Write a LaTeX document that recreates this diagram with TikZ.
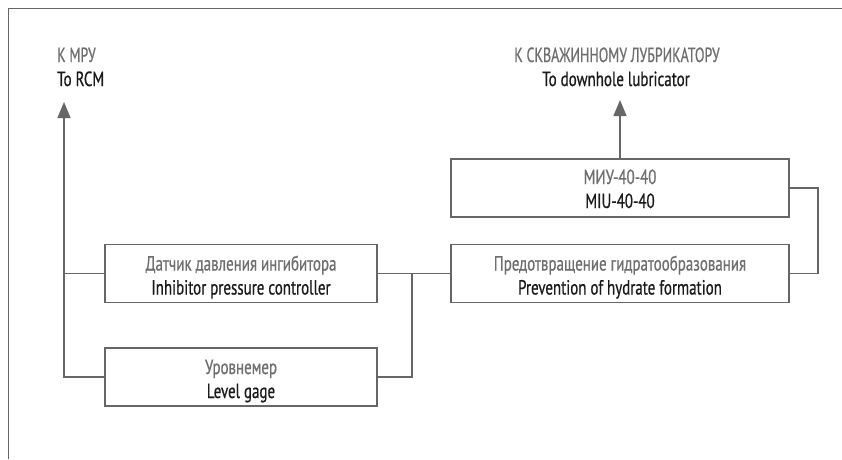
\documentclass[tikz,border=0pt]{standalone}
\usepackage{fontspec}
\setmainfont{PT Sans}[FakeStretch=0.73, FakeBold=0.6]
\newfontfamily\capsfont{PT Sans}[FakeStretch=0.68, FakeBold=0.6]
\usetikzlibrary{arrows.meta}
\definecolor{linegray}{HTML}{666666}
\definecolor{rugray}{HTML}{6E6E6E}
\definecolor{entext}{HTML}{1A1A1A}

\begin{document}
\begin{tikzpicture}[x=1pt,y=-1pt,
  frame/.style={draw=linegray, line width=1.4pt},
  box/.style={draw=linegray, line width=1.4pt, fill=white, minimum height=58pt, inner sep=0pt},
  wire/.style={draw=linegray, line width=1.4pt},
  flow/.style={wire, -{Triangle[width=13pt,length=16pt]}},
  txt/.style={font=\fontsize{20.5}{24}\selectfont, inner sep=0pt},
  ru/.style={txt, text=rugray, anchor=base},
  en/.style={txt, text=entext, anchor=base},
  ruL/.style={ru, anchor=base west},
  enL/.style={en, anchor=base west}]
\useasboundingbox (0,0) rectangle (842,459);

% open frame: left and top edges only
\draw[frame] (8.5,459) -- (8.5,8.5) -- (842,8.5);

% outgoing destinations
\node[ruL] (rcm-ru) at (57,62) {\capsfont К МРУ};
\node[enL] (rcm-en) at (57,86) {To RCM};
\node[ru] (lub-ru) at (617,62) {\capsfont К СКВАЖИННОМУ ЛУБРИКАТОРУ};
\node[en] (lub-en) at (616,86) {To downhole lubricator};
\coordinate (rcm) at (64,102);
\coordinate (lub) at (620,100);

% blocks
\node[box, minimum width=272pt] (inh)  at (241,273.5) {};
\node[box, minimum width=272pt] (lvl)  at (241,377) {};
\node[box, minimum width=338pt] (prev) at (620,273.5) {};
\node[box, minimum width=338pt] (miu)  at (620,188) {};

% block captions (Russian above, English below)
\node[ru] (inh-ru)  at ([yshift=3pt]inh.center)   {Датчик давления ингибитора};
\node[en] (inh-en)  at ([yshift=-21pt]inh.center) {Inhibitor pressure controller};
\node[ru] (lvl-ru)  at ([yshift=3pt]lvl.center)   {Уровнемер};
\node[en] (lvl-en)  at ([yshift=-21pt]lvl.center) {Level gage};
\node[ru] (prev-ru) at ([yshift=3pt]prev.center)  {Предотвращение гидратообразования};
\node[en] (prev-en) at ([yshift=-21pt]prev.center){Prevention of hydrate formation};
\node[ru] (miu-ru)  at ([yshift=4pt]miu.center)   {МИУ-40-40};
\node[en] (miu-en)  at ([yshift=-20pt]miu.center) {MIU-40-40};

% connectors
\coordinate (jx) at (412,0);
\coordinate (mx) at (818,0);
\draw[flow] (lvl.west) -- (lvl.west -| rcm) -- (rcm);
\draw[wire] (inh.west) -- (inh.west -| rcm);
\draw[wire] (inh.east) -- (prev.west);
\draw[wire] (inh.east -| jx) -- (lvl.east -| jx) -- (lvl.east);
\draw[wire] (miu.east) -- (miu.east -| mx) -- (prev.east -| mx) -- (prev.east);
\draw[flow] (miu.north) -- (lub);
\end{tikzpicture}
\end{document}
